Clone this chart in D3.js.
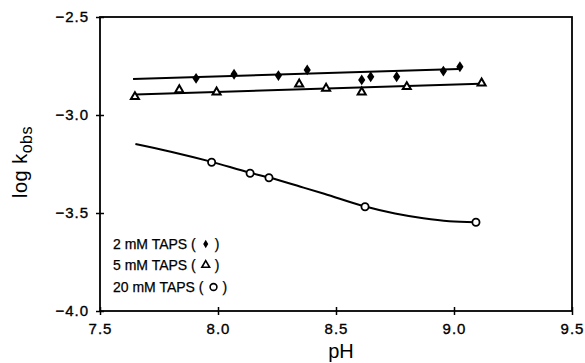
<!DOCTYPE html>
<html><head><meta charset="utf-8">
<script src="https://cdn.jsdelivr.net/npm/d3@7"></script>
<style>body{margin:0;background:#fff}svg{display:block}text{font-family:"Liberation Sans",Arial,sans-serif;fill:#000}</style>
</head><body><svg id="c" width="585" height="363"></svg>
<script>
// Data
const xTicks = [7.5, 8.0, 8.5, 9.0, 9.5];
const yTicks = [-2.5, -3.0, -3.5, -4.0];
const seriesNames = ["2 mM TAPS", "5 mM TAPS", "20 mM TAPS"];
const ph2 = [7.907, 8.068, 8.256, 8.378, 8.609, 8.647, 8.757, 8.955, 9.025];
const k2  = [-2.813, -2.792, -2.799, -2.770, -2.821, -2.805, -2.805, -2.776, -2.754];
const ph5 = [7.648, 7.836, 7.994, 8.344, 8.458, 8.609, 8.800, 9.117];
const k5  = [-2.907, -2.872, -2.884, -2.843, -2.864, -2.884, -2.856, -2.838];
const ph20 = [7.973, 8.136, 8.216, 8.623, 9.093];
const k20  = [-3.241, -3.297, -3.320, -3.468, -3.547];
// fitted lines
const fit2Ph = [7.64, 9.02];
const fit2K  = [-2.816, -2.765];
const fit5Ph = [7.65, 9.11];
const fit5K  = [-2.896, -2.840];
const fit20Ph = [7.65, 7.80, 7.97, 8.14, 8.22, 8.35, 8.45, 8.62, 8.75, 8.87, 8.98, 9.09];
const fit20K  = [-3.148, -3.187, -3.238, -3.296, -3.320, -3.366, -3.402, -3.466, -3.503, -3.527, -3.542, -3.547];

const svg = d3.select("#c");
const L = 100, R = 572, T = 17, B = 311;
const x = d3.scaleLinear().domain([7.5, 9.5]).range([L, R]);
const y = d3.scaleLinear().domain([-4.0, -2.5]).range([B, T]);
const fmt = d => d.toFixed(1).replace("-", "\u2212");

// frame
svg.append("rect").attr("x", L).attr("y", T).attr("width", R - L).attr("height", B - T)
  .attr("fill", "none").attr("stroke", "#000").attr("stroke-width", 1.8);

// axes with cross ticks
const xa = svg.append("g").attr("transform", `translate(0,${B})`)
  .call(d3.axisBottom(x).tickValues(xTicks).tickFormat(d => d.toFixed(1)).tickSize(4).tickPadding(8));
xa.selectAll(".tick line").attr("y1", -4).attr("y2", 4).attr("stroke-width", 1.5);
xa.select(".domain").remove();
xa.selectAll("text").attr("font-size", 15).attr("letter-spacing", 1)
  .attr("stroke", "#000").attr("stroke-width", 0.35)
  .attr("font-family", "Liberation Sans, Arial, sans-serif");

const ya = svg.append("g").attr("transform", `translate(${L},0)`)
  .call(d3.axisLeft(y).tickValues(yTicks).tickFormat(fmt).tickSize(4).tickPadding(7));
ya.selectAll(".tick line").attr("x1", -4).attr("x2", 4).attr("stroke-width", 1.5);
ya.select(".domain").remove();
ya.selectAll("text").attr("font-size", 15).attr("letter-spacing", 1)
  .attr("stroke", "#000").attr("stroke-width", 0.35)
  .attr("font-family", "Liberation Sans, Arial, sans-serif");

// axis titles
svg.append("text").attr("x", 341).attr("y", 358).attr("text-anchor", "middle")
  .attr("font-size", 20).text("pH");
const yl = svg.append("text").attr("transform", "translate(27,162) rotate(-90)")
  .attr("text-anchor", "middle").attr("font-size", 20).attr("letter-spacing", 0.5);
yl.append("tspan").text("log k");
yl.append("tspan").attr("font-size", 16).attr("dy", 5).text("obs");

// lines
const line = d3.line().x(d => x(d[0])).y(d => y(d[1]));
const lineC = d3.line().x(d => x(d[0])).y(d => y(d[1])).curve(d3.curveMonotoneX);
svg.append("path").attr("d", line(d3.zip(fit2Ph, fit2K))).attr("fill", "none").attr("stroke", "#000").attr("stroke-width", 2);
svg.append("path").attr("d", line(d3.zip(fit5Ph, fit5K))).attr("fill", "none").attr("stroke", "#000").attr("stroke-width", 2);
svg.append("path").attr("d", lineC(d3.zip(fit20Ph, fit20K))).attr("fill", "none").attr("stroke", "#000").attr("stroke-width", 2);

// markers
const diamond = d3.symbol().type(d3.symbolDiamond).size(34);
const tri = d3.symbol().type(d3.symbolTriangle).size(28);
svg.append("g").selectAll("path").data(d3.zip(ph2, k2)).join("path")
  .attr("d", diamond).attr("transform", d => `translate(${x(d[0])},${y(d[1])}) scale(1.15,1)`).attr("fill", "#000");
svg.append("g").selectAll("path").data(d3.zip(ph5, k5)).join("path")
  .attr("d", tri).attr("transform", d => `translate(${x(d[0])},${y(d[1])})`)
  .attr("fill", "#fff").attr("stroke", "#000").attr("stroke-width", 2);
svg.append("g").selectAll("circle").data(d3.zip(ph20, k20)).join("circle")
  .attr("cx", d => x(d[0])).attr("cy", d => y(d[1])).attr("r", 3.6)
  .attr("fill", "#fff").attr("stroke", "#000").attr("stroke-width", 1.8);

// legend
const legY = [249, 270, 292];
const symbols = ["diamond", "tri", "circle"];
seriesNames.forEach((name, i) => {
  const t = svg.append("text").attr("x", 113).attr("y", legY[i]).attr("font-size", 14)
    .attr("stroke", "#000").attr("stroke-width", 0.25).text(name + " (");
  const w = t.node().getComputedTextLength();
  const sx = 113 + w + 10, sy = legY[i] - 5;
  if (symbols[i] === "diamond") {
    svg.append("path").attr("d", d3.symbol().type(d3.symbolDiamond).size(22)()).attr("transform", `translate(${sx},${sy})`).attr("fill", "#000");
  } else if (symbols[i] === "tri") {
    svg.append("path").attr("d", d3.symbol().type(d3.symbolTriangle).size(26)()).attr("transform", `translate(${sx},${sy})`).attr("fill", "none").attr("stroke", "#000").attr("stroke-width", 1.6);
  } else {
    svg.append("circle").attr("cx", sx).attr("cy", sy).attr("r", 3.4).attr("fill", "none").attr("stroke", "#000").attr("stroke-width", 1.6);
  }
  svg.append("text").attr("x", sx + 9).attr("y", legY[i]).attr("font-size", 14)
    .attr("stroke", "#000").attr("stroke-width", 0.25).text(")");
});
</script></body></html>
